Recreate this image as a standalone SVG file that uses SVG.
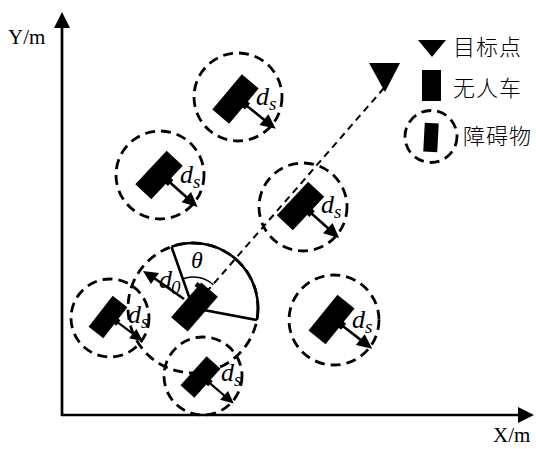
<svg xmlns="http://www.w3.org/2000/svg" xmlns:xlink="http://www.w3.org/1999/xlink" width="536" height="449" viewBox="0 0 536 449">
<style>
.dc{fill:none;stroke:#000;stroke-width:2.8;stroke-dasharray:10 6}
.ax{stroke:#000;stroke-width:2.7;fill:none}
.it{font-family:"Liberation Serif",serif;font-style:italic;fill:#000}
.d{font-size:26px}
.s{font-size:19px}
.lab{font-family:"Liberation Serif",serif;font-size:21px;fill:#000}
.cjk{font-family:"Noto Sans CJK SC",sans-serif;font-size:22px;font-weight:300;fill:#000;letter-spacing:1px}
</style>
<defs>
<g id="robot">
<rect x="-23" y="-11" width="46" height="22" fill="#000"/>
<rect x="-2" y="9" width="8" height="5" fill="#000"/>
<line x1="2" y1="12" x2="2.6" y2="38" stroke="#000" stroke-width="2.6"/>
<polygon points="3,50 -4.5,35 9.5,35" fill="#000"/>
</g>
</defs>
<rect width="536" height="449" fill="#fff"/>
<g id="axes">
<line class="ax" x1="62" y1="416" x2="62" y2="25"/>
<polygon points="62,12 54,28 70,28" fill="#000"/>
<line class="ax" x1="61" y1="415" x2="520" y2="415"/>
<polygon points="534,415 518,407 518,423" fill="#000"/>
<text class="lab" x="8" y="44">Y/m</text>
<text class="lab" x="493" y="442">X/m</text>
</g>
<g id="connectors">
<line x1="384" y1="88" x2="196" y2="304" stroke="#000" stroke-width="2" stroke-dasharray="7 5"/>
</g>
<g id="target">
<polygon points="369,63 400,63 385,92" fill="#000"/>
</g>
<g id="obstacle1">
<circle class="dc" cx="238" cy="97" r="44"/>
<use xlink:href="#robot" transform="translate(235.5,99) rotate(-50)"/>
<text class="it d" x="256" y="105">d</text><text class="it s" x="269" y="110">s</text>
</g>
<g id="obstacle2">
<circle class="dc" cx="160" cy="175" r="44"/>
<use xlink:href="#robot" transform="translate(159,175) rotate(-47)"/>
<text class="it d" x="180" y="183">d</text><text class="it s" x="193" y="188">s</text>
</g>
<g id="obstacle3">
<circle class="dc" cx="303" cy="207" r="44"/>
<use xlink:href="#robot" transform="translate(300.5,206) rotate(-47)"/>
<text class="it d" x="321" y="213">d</text><text class="it s" x="334" y="218">s</text>
</g>
<g id="obstacle4">
<circle class="dc" cx="110" cy="318" r="39"/>
<use xlink:href="#robot" transform="translate(108,317) rotate(-52) scale(0.85)"/>
<text class="it d" x="128" y="323">d</text><text class="it s" x="141" y="328">s</text>
</g>
<g id="obstacle5">
<circle class="dc" cx="203" cy="376" r="39"/>
<use xlink:href="#robot" transform="translate(200.5,377) rotate(-48) scale(0.85)"/>
<text class="it d" x="221" y="381">d</text><text class="it s" x="234" y="386">s</text>
</g>
<g id="obstacle6">
<circle class="dc" cx="334" cy="320" r="45"/>
<use xlink:href="#robot" transform="translate(331.5,319.5) rotate(-51)"/>
<text class="it d" x="352" y="328">d</text><text class="it s" x="365" y="333">s</text>
</g>
<g id="vehicle">
<circle class="dc" cx="193" cy="308" r="65"/>
<path d="M171.5,246.7 A65,65 0 0 1 256.9,320 M193,308 L171.5,246.7 M193,308 L256.9,320" fill="none" stroke="#000" stroke-width="2.6"/>
<path d="M182.8,278.7 A31,31 0 0 1 213.4,284.7" fill="none" stroke="#000" stroke-width="1.5"/>
<g transform="translate(194.5,307) rotate(-49)">
<rect x="-23" y="-11" width="46" height="22" fill="#000"/>
<rect x="16" y="-14" width="5" height="5" fill="#000"/>
</g>
<line x1="184" y1="299" x2="154" y2="278" stroke="#000" stroke-width="2.6"/>
<polygon points="143,271 159,273 151,284" fill="#000"/>
<text class="it d" x="159" y="288">d</text><text class="it s" x="171" y="294">0</text>
<text class="it" x="191" y="268" font-size="24">θ</text>
</g>
<g id="legend">
<polygon points="418,40 446,40 432,57" fill="#000"/>
<text class="cjk" x="453" y="55">目标点</text>
<rect x="422" y="70" width="19" height="31" fill="#000"/>
<text class="cjk" x="453" y="96">无人车</text>
<circle class="dc" cx="431" cy="136.5" r="26"/>
<rect x="424" y="123" width="14" height="29" fill="#000" transform="rotate(3 431 137.5)"/>
<text class="cjk" x="463" y="144">障碍物</text>
</g>
</svg>
